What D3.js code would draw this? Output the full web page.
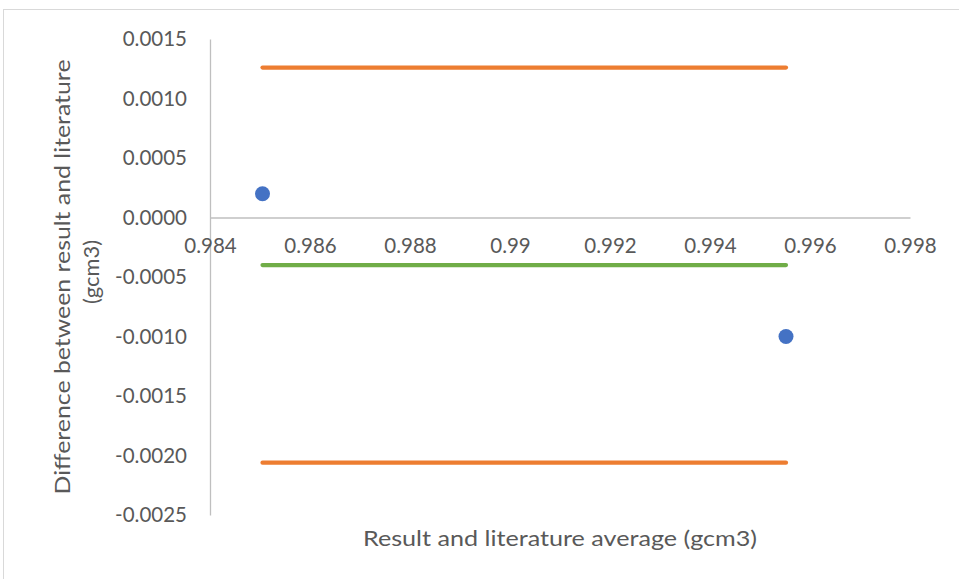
<!DOCTYPE html>
<html><head><meta charset="utf-8">
<script src="https://cdn.jsdelivr.net/npm/d3@7"></script>
<style>body{margin:0;background:#fff}svg{display:block}text{font-family:Lato,"Open Sans",sans-serif;fill:#595959}</style>
</head><body>
<script>
// Data
const pointX = [0.98505, 0.99552];
const pointY = [0.0002, -0.001];
const meanDiff = -0.0004;
const upperLoA = 0.00126;
const lowerLoA = -0.00206;
const xTicks = [0.984, 0.986, 0.988, 0.99, 0.992, 0.994, 0.996, 0.998];
const xTickLabels = ["0.984","0.986","0.988","0.99","0.992","0.994","0.996","0.998"];
const yTicks = [0.0015, 0.001, 0.0005, 0, -0.0005, -0.001, -0.0015, -0.002, -0.0025];
const yTickLabels = ["0.0015","0.0010","0.0005","0.0000","-0.0005","-0.0010","-0.0015","-0.0020","-0.0025"];
const xTitle = "Result and literature average (gcm3)";
const yTitleLines = ["Difference between result and literature", "(gcm3)"];

const W = 959, H = 579;
const svg = d3.select("body").append("svg").attr("width", W).attr("height", H);

// chart border
svg.append("rect").attr("x", 3.5).attr("y", 9.5).attr("width", 970).attr("height", 600)
  .attr("fill", "none").attr("stroke", "#D9D9D9").attr("stroke-width", 1);

const x = d3.scaleLinear().domain([0.984, 0.998]).range([210, 910]);
const y = d3.scaleLinear().domain([-0.0025, 0.0015]).range([515, 39]);

// y axis
const yAxis = d3.axisLeft(y).tickValues(yTicks).tickSize(0).tickPadding(23)
  .tickFormat((d, i) => yTickLabels[i]);
const gy = svg.append("g").attr("transform", `translate(${x(0.984)},0)`).call(yAxis);
gy.select(".domain").attr("stroke", "#BFBFBF").attr("stroke-width", 1.3);
gy.selectAll("text").style("font-size", "20.5px").attr("fill", "#595959").style("font-family", "Lato,sans-serif");

// x axis at y=0
const xAxis = d3.axisBottom(x).tickValues(xTicks).tickSize(0).tickPadding(21)
  .tickFormat((d, i) => xTickLabels[i]);
const gx = svg.append("g").attr("transform", `translate(0,${y(0)})`).call(xAxis);
gx.select(".domain").attr("stroke", "#BFBFBF").attr("stroke-width", 1.3);
gx.selectAll("text").style("font-size", "20.5px").attr("fill", "#595959").style("font-family", "Lato,sans-serif");

// lines
const lineData = [
  {v: upperLoA, c: "#ED7D31"},
  {v: meanDiff, c: "#70AD47"},
  {v: lowerLoA, c: "#ED7D31"}
];
const line = d3.line().x(d => x(d[0])).y(d => y(d[1]));
lineData.forEach(l => {
  svg.append("path").datum([[pointX[0], l.v], [pointX[1], l.v]])
    .attr("d", line).attr("fill", "none").attr("stroke", l.c)
    .attr("stroke-width", 4.2).attr("stroke-linecap", "round");
});

// points
svg.selectAll("circle.pt").data(pointX.map((v, i) => [v, pointY[i]])).enter()
  .append("circle").attr("class", "pt")
  .attr("cx", d => x(d[0])).attr("cy", d => y(d[1])).attr("r", 7.5)
  .attr("fill", "#4472C4");

// axis titles
svg.append("text").attr("x", 560).attr("y", 546).attr("text-anchor", "middle")
  .style("font-size", "21px").attr("textLength", 394).attr("lengthAdjust", "spacingAndGlyphs")
  .text(xTitle);

svg.append("text").attr("transform", "translate(70,277) rotate(-90)")
  .attr("text-anchor", "middle").style("font-size", "21px")
  .attr("textLength", 435).attr("lengthAdjust", "spacingAndGlyphs").text(yTitleLines[0]);
svg.append("text").attr("transform", "translate(99,272) rotate(-90)")
  .attr("text-anchor", "middle").style("font-size", "22px")
  .attr("textLength", 64).attr("lengthAdjust", "spacingAndGlyphs").text(yTitleLines[1]);
</script>
</body></html>
